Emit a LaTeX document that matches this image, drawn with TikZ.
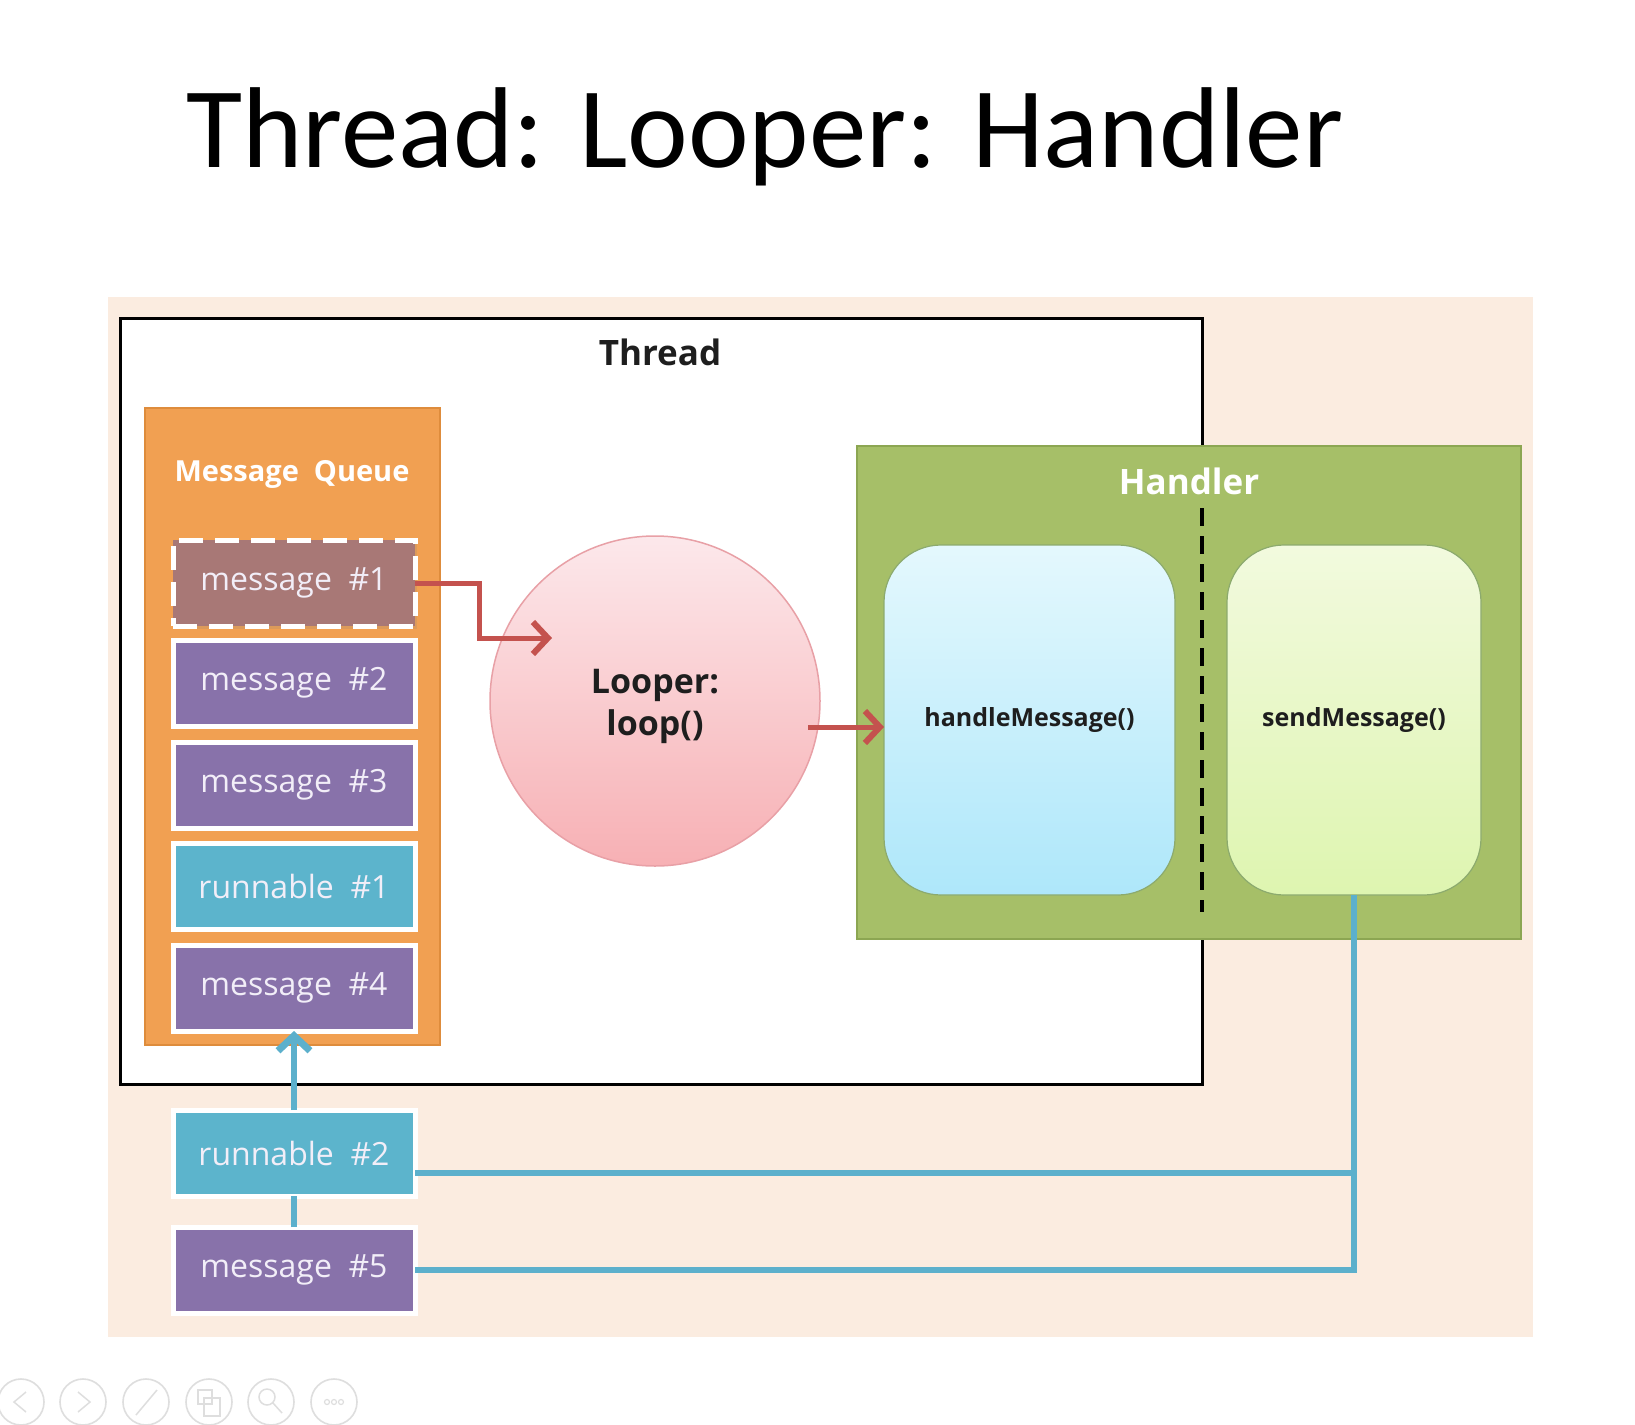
\documentclass[tikz,border=0pt]{standalone}
\usepackage{fontspec}
\setsansfont{Open Sans}
\newfontfamily\titlefont{Carlito}
\usetikzlibrary{arrows.meta,shadows}

\definecolor{peach}{RGB}{251,236,224}
\definecolor{queueorange}{RGB}{241,160,82}
\definecolor{msgpurple}{RGB}{136,114,170}
\definecolor{runcyan}{RGB}{92,180,204}
\definecolor{headmsg}{RGB}{168,120,118}
\definecolor{handlergreen}{RGB}{166,191,104}
\definecolor{handleredge}{RGB}{140,166,82}
\definecolor{flowred}{RGB}{196,82,78}
\definecolor{linkblue}{RGB}{92,176,204}
\definecolor{msgtext}{RGB}{242,238,248}
\definecolor{darktext}{RGB}{30,30,30}
\definecolor{icongray}{RGB}{222,222,222}

\begin{document}
\begin{tikzpicture}[x=1pt,y=-1pt,
  box/.style={rectangle, inner sep=0pt, outer sep=0pt},
  item/.style={box, draw=white, line width=5pt, minimum width=242pt, minimum height=86pt,
    text=msgtext, font=\sffamily\fontsize{32}{36}\selectfont,
    drop shadow={shadow xshift=2pt, shadow yshift=-3pt, opacity=0.18}},
  msgitem/.style={item, fill=msgpurple},
  runitem/.style={item, fill=runcyan},
  redflow/.style={draw=flowred, line width=5pt, -{Straight Barb[length=15pt,width=32pt,line width=6pt]}},
  bluelink/.style={draw=linkblue, line width=6pt},
  method/.style={box, rounded corners=57pt, minimum width=291pt, minimum height=350pt,
    draw={rgb,255:red,140;green,170;blue,110}, line width=1.2pt,
    font=\sffamily\bfseries\fontsize{25}{30}\selectfont, text=darktext},
  toolicon/.style={circle, draw=icongray, line width=1.6pt, minimum size=46pt, inner sep=0pt}
]
\useasboundingbox (0,0) rectangle (1635,1424);
\fill[white] (0,0) rectangle (1635,1424);

% title
\node[anchor=base west, inner sep=0pt, font=\titlefont\fontsize{115}{128}\selectfont]
  (title) at (186,167) {Thread: Looper: Handler};

% backdrop panel
\node[box, fill=peach, minimum width=1425pt, minimum height=1040pt] (panel) at (820.5,817) {};

% thread frame
\node[box, fill=white, draw=black, line width=3pt, minimum width=1082pt, minimum height=766pt]
  (thread) at (661,701) {};
\node[font=\sffamily\bfseries\fontsize{35}{40}\selectfont, text=darktext] (threadlbl) at (660,352) {Thread};

% message queue
\node[box, fill=queueorange, draw={rgb,255:red,222;green,140;blue,60}, line width=1.5pt,
  minimum width=295pt, minimum height=637pt] (queue) at (292.5,726.5) {};
\node[font=\sffamily\bfseries\fontsize{29}{34}\selectfont, text=white] (queuelbl) at (292,474) {Message\ \ Queue};

\node[item, fill=headmsg, draw=white, dash pattern=on 24pt off 12pt, drop shadow={opacity=0}]
  (m1) at (294,583) {message\ \ \#1};
\node[msgitem] (m2) at (294,683) {message\ \ \#2};
\node[msgitem] (m3) at (294,785) {message\ \ \#3};
\node[runitem] (r1) at (294,886) {runnable\ \ \#1};
\node[msgitem] (m4) at (294,988) {message\ \ \#4};

% looper
\node[circle, minimum size=330pt, inner sep=0pt,
  top color={rgb,255:red,252;green,232;blue,235}, bottom color={rgb,255:red,247;green,176;blue,180},
  draw={rgb,255:red,232;green,160;blue,166}, line width=1.5pt] (looper) at (655,701) {};
\node[align=center, font=\sffamily\bfseries\fontsize{34}{42}\selectfont, text=darktext]
  (looperlbl) at (655,706) {Looper:\\loop()};

% handler
\node[box, fill=handlergreen, draw=handleredge, line width=2pt, minimum width=664pt, minimum height=493pt]
  (handler) at (1189,692.5) {};
\node[font=\sffamily\bfseries\fontsize{35}{40}\selectfont, text=white] (handlerlbl) at (1189,481) {Handler};
\draw[black, line width=4pt, dash pattern=on 18pt off 10pt] (1202,508) -- (1202,912);

\node[method, top color={rgb,255:red,228;green,248;blue,253}, bottom color={rgb,255:red,174;green,231;blue,250}]
  (hm) at (1029.5,720) {handleMessage()};
\node[method, minimum width=254pt, top color={rgb,255:red,242;green,250;blue,222}, bottom color={rgb,255:red,222;green,245;blue,176}]
  (sm) at (1354,720) {sendMessage()};

% messages posted from outside the thread
\node[runitem] (r2) at (294,1153) {runnable\ \ \#2};
\node[msgitem] (m5) at (294,1270) {message\ \ \#5};

% connectors
\coordinate (loopin) at (552,638);
\coordinate (loopout) at (808,727);
\draw[redflow] (m1.east) -- ++(64,0) |- (loopin);
\draw[redflow] (loopout) -- (loopout -| hm.west);

\draw[bluelink] ([yshift=-20pt]r2.east) -| (sm.south);
\draw[bluelink] (m5.east) -| (sm.south);
\draw[bluelink] (m5.north) -- (r2.south);
\draw[bluelink, -{Straight Barb[length=15pt,width=32pt,line width=7pt]}] (r2.north) -- (m4.south);

% slide toolbar
\node[toolicon] (tb1) at (21,1402) {};
\node[toolicon] (tb2) at (83,1402) {};
\node[toolicon] (tb3) at (146,1402) {};
\node[toolicon] (tb4) at (209,1402) {};
\node[toolicon] (tb5) at (271,1402) {};
\node[toolicon] (tb6) at (334,1402) {};
\draw[icongray, line width=1.5pt] (26,1392) -- (14,1402) -- (26,1412);
\draw[icongray, line width=1.5pt] (78,1392) -- (90,1402) -- (78,1412);
\draw[icongray, line width=1.5pt] (136,1415) -- (157,1390);
\draw[icongray, line width=1.5pt] (198,1390) rectangle (212,1404) (204,1398) rectangle (220,1416);
\draw[icongray, line width=1.5pt] (267,1397) circle (8) (273,1403) -- (282,1413);
\foreach \dx in {-7,0,7} \draw[icongray, line width=1.2pt] (334+\dx,1402) circle (2.5);
\end{tikzpicture}
\end{document}
